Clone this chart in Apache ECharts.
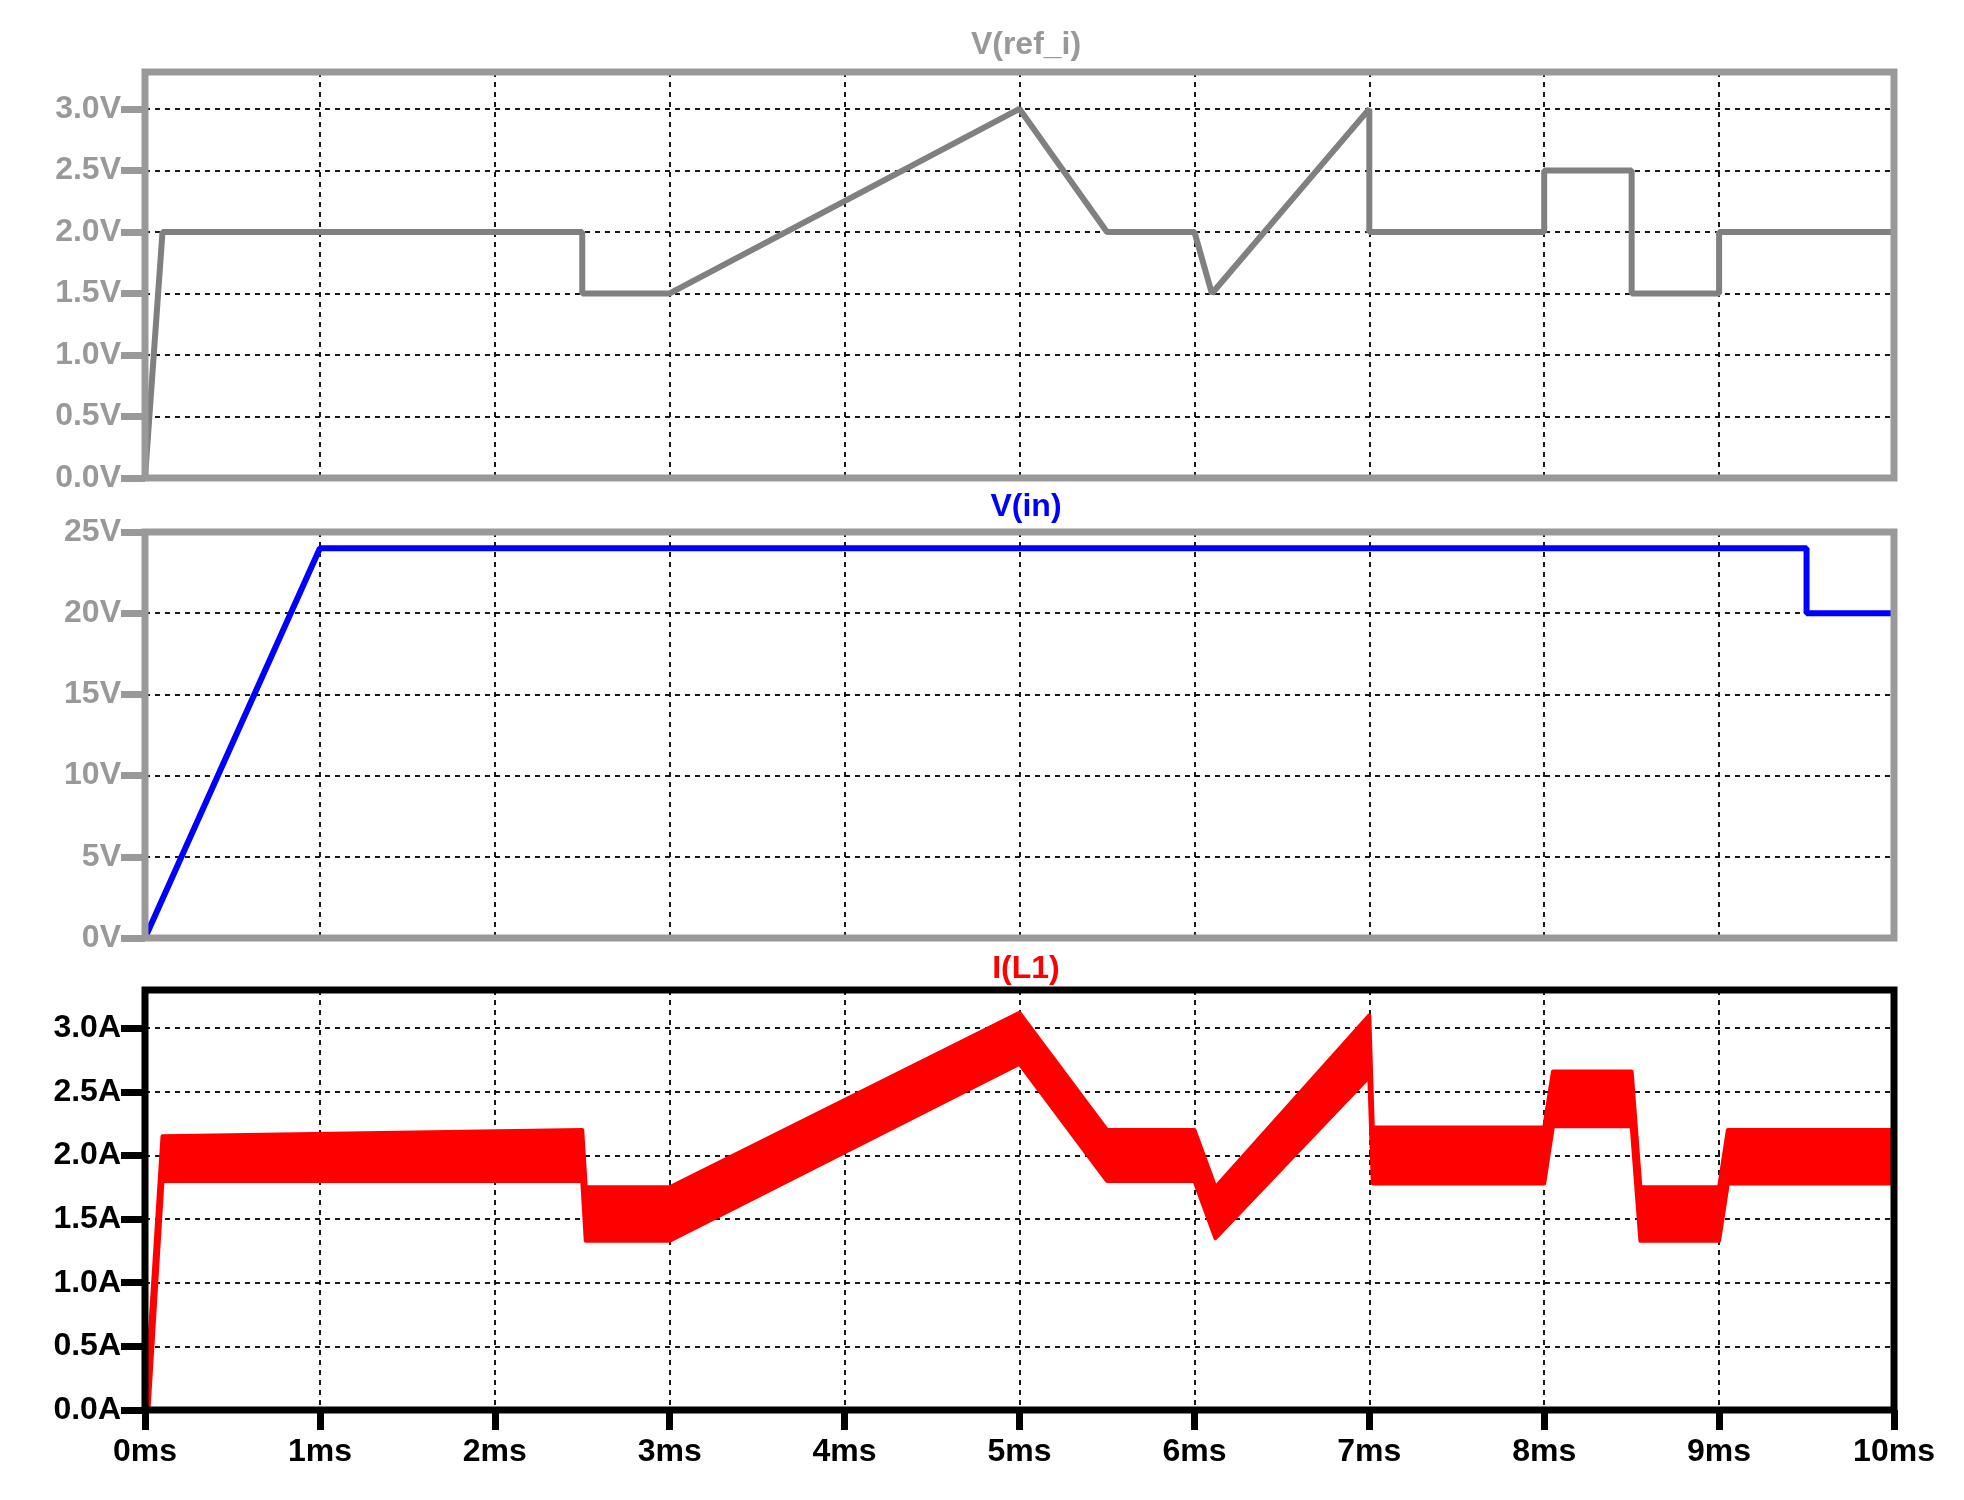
<!DOCTYPE html>
<html><head><meta charset="utf-8">
<script src="https://cdn.jsdelivr.net/npm/echarts@6/dist/echarts.min.js"></script>
<style>html,body{margin:0;background:#fff}#c{width:1964px;height:1500px}</style>
</head><body><div id="c"></div>
<script>
const refI = [[0,0],[0.1,2],[2.5,2],[2.5,1.5],[3,1.5],[5,3],[5.5,2],[6,2],[6.1,1.5],[7,3],[7,2],[8,2],[8,2.5],[8.5,2.5],[8.5,1.5],[9,1.5],[9,2],[10,2]];
const vIn = [[0,0],[1,24],[9.5,24],[9.5,20],[10,20]];
const iL1Lower = [[0,0],[0.02,0],[0.1,1.8],[2.5,1.8],[2.52,1.33],[3,1.33],[5,2.72],[5.5,1.8],[6,1.8],[6.12,1.35],[7,2.62],[7.02,1.78],[8,1.78],[8.05,2.23],[8.5,2.23],[8.55,1.33],[9,1.33],[9.05,1.78],[10,1.78]];
const iL1Upper = [[0,0],[0.1,2.15],[2.5,2.2],[2.52,1.75],[3,1.75],[5,3.12],[5.5,2.2],[6,2.2],[6.12,1.75],[7,3.1],[7.02,2.22],[8,2.22],[8.05,2.66],[8.5,2.66],[8.55,1.75],[9,1.75],[9.05,2.2],[10,2.2]];
const xTicks = ['0ms','1ms','2ms','3ms','4ms','5ms','6ms','7ms','8ms','9ms','10ms'];
const yTicks1 = [0,0.5,1,1.5,2,2.5,3];
const yTicks2 = [0,5,10,15,20,25];
const yTicks3 = [0,0.5,1,1.5,2,2.5,3];

const font = 'Liberation Sans';
const G = [
  {left:145, right:70, top:72, height:406, col:'#999'},
  {left:145, right:70, top:532, height:406, col:'#999'},
  {left:145, right:70, top:990, height:420, col:'#000'}
];
const split = {show:true,lineStyle:{type:[5,5],color:'#000',width:1.8}};
function xAx(i){
  return {type:'value',gridIndex:i,min:0,max:10,interval:1,
    axisLine:{show:false},splitLine:split,
    axisTick:{show:i===2,length:20,inside:false,lineStyle:{width:7,color:'#000'}},
    axisLabel:{show:i===2,fontFamily:font,fontWeight:'bold',fontSize:32,color:'#000',margin:26,
      formatter:v=>xTicks[Math.round(v)]}};
}
function yAx(i,max,ticks,unit,dec,col){
  return {type:'value',gridIndex:i,min:0,max:max,
    axisLine:{show:false},splitLine:split,
    axisTick:{show:true,length:24,customValues:ticks,lineStyle:{width:7,color:col}},
    axisLabel:{fontFamily:font,fontWeight:'bold',fontSize:32,color:col,margin:24,customValues:ticks,
      formatter:v=>v.toFixed(dec)+unit}};
}
const W = 1964;
const opt = {
  animation:false,
  title:[
    {text:'V(ref_i)',left:1021,top:24,textAlign:'center',textStyle:{fontFamily:font,fontWeight:'bold',fontSize:32,color:'#999'}},
    {text:'V(in)',left:1021,top:486,textAlign:'center',textStyle:{fontFamily:font,fontWeight:'bold',fontSize:32,color:'#0000ff'}},
    {text:'I(L1)',left:1021,top:948,textAlign:'center',textStyle:{fontFamily:font,fontWeight:'bold',fontSize:32,color:'#ff0000'}}
  ],
  grid:G.map(g=>({left:g.left,right:g.right,top:g.top,height:g.height,show:false})),
  graphic:G.map(g=>({type:'rect',z:100,shape:{x:g.left,y:g.top,width:W-g.left-g.right,height:g.height},
    style:{fill:'none',stroke:g.col,lineWidth:7}})),
  xAxis:[xAx(0),xAx(1),xAx(2)],
  yAxis:[yAx(0,3.3,yTicks1,'V',1,'#999'),yAx(1,25,yTicks2,'V',0,'#999'),yAx(2,3.3,yTicks3,'A',1,'#000')],
  series:[
    {type:'line',xAxisIndex:0,yAxisIndex:0,data:refI,symbol:'none',lineStyle:{color:'#808080',width:6}},
    {type:'line',xAxisIndex:1,yAxisIndex:1,data:vIn,symbol:'none',lineStyle:{color:'#0000ff',width:6}},
    {type:'custom',xAxisIndex:2,yAxisIndex:2,data:[0],clip:true,
      renderItem:(params,api)=>{
        const pts = iL1Upper.map(p=>api.coord(p)).concat(iL1Lower.slice().reverse().map(p=>api.coord(p)));
        return {type:'polygon',shape:{points:pts},style:{fill:'#ff0000',stroke:'#ff0000',lineWidth:4,lineJoin:'round'}};
      }}
  ]
};
echarts.init(document.getElementById('c')).setOption(opt);
</script></body></html>
